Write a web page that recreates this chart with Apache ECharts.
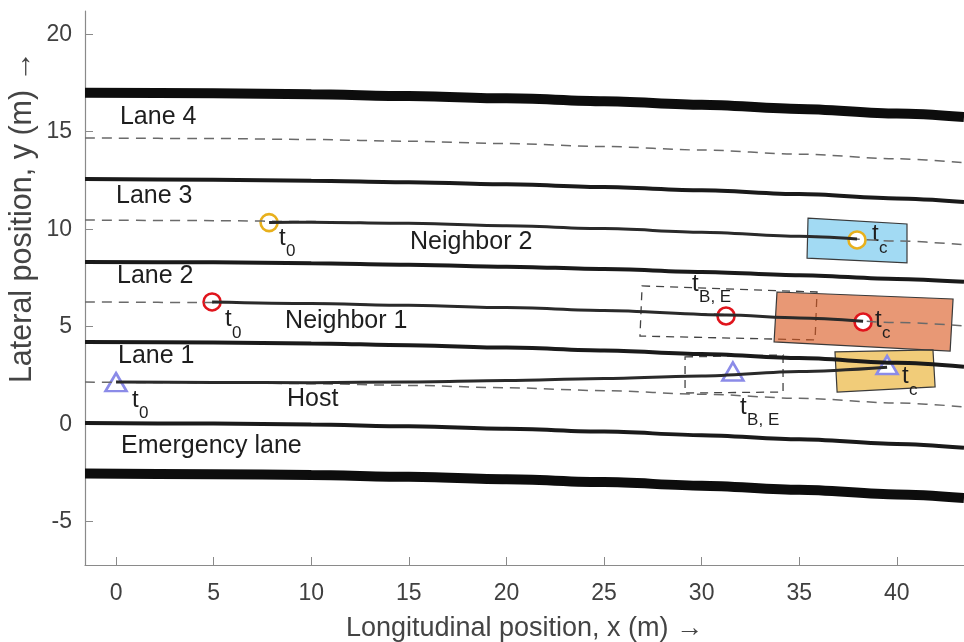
<!DOCTYPE html>
<html>
<head>
<meta charset="utf-8">
<title>lane change</title>
<script src="https://cdn.jsdelivr.net/npm/echarts@6.0.0/dist/echarts.min.js"></script>
<style>
  html, body { margin: 0; padding: 0; background: #fff; }
  #main { width: 964px; height: 642px; }
</style>
</head>
<body>
<div id="main"></div>
<script>
// x samples shared by all road lines
var roadX = [-1.59, 5, 10, 15, 20, 25, 30, 35, 40, 43.44];

// road edges (thick) and lane boundaries
var edgeTop    = [17.0, 16.97, 16.92, 16.83, 16.71, 16.56, 16.38, 16.17, 15.93, 15.75];
var bound34    = [12.57, 12.54, 12.49, 12.41, 12.3, 12.16, 12.0, 11.8, 11.58, 11.4];
var bound23    = [8.32, 8.3, 8.25, 8.18, 8.08, 7.96, 7.81, 7.64, 7.45, 7.3];
var bound12    = [4.22, 4.19, 4.14, 4.05, 3.93, 3.78, 3.6, 3.39, 3.15, 2.95];
var bound01    = [0.06, 0.03, -0.02, -0.11, -0.23, -0.38, -0.56, -0.77, -1.01, -1.21];
var edgeBottom = [-2.53, -2.56, -2.61, -2.7, -2.82, -2.97, -3.15, -3.36, -3.6, -3.78];

// lane centre lines (dashed)
var center4 = [14.68, 14.65, 14.6, 14.51, 14.39, 14.24, 14.06, 13.85, 13.61, 13.41];
var center3 = [10.47, 10.44, 10.39, 10.3, 10.18, 10.03, 9.85, 9.64, 9.4, 9.2];
var center2 = [6.27, 6.24, 6.19, 6.1, 5.98, 5.83, 5.66, 5.45, 5.22, 5.04];
var center1 = [2.16, 2.13, 2.08, 1.99, 1.87, 1.72, 1.54, 1.33, 1.09, 0.89];

// vehicle trajectories
var nb2X = [7.84, 10, 15, 20, 25, 30, 35, 37.96];
var nb2Y = [10.34, 10.36, 10.3, 10.18, 10.03, 9.85, 9.64, 9.5];
var nb1X = [4.92, 10, 15, 20, 25, 31.25, 35, 38.27];
var nb1Y = [6.27, 6.19, 6.1, 5.98, 5.83, 5.6, 5.45, 5.28];
var hostX = [0, 5, 10, 15, 20, 25, 30, 35, 39.5];
var hostY = [2.16, 2.14, 2.13, 2.17, 2.24, 2.34, 2.47, 2.7, 2.92];

// markers: t0, tB,E, tc
var nb2Marks  = [[7.84, 10.34], [37.96, 9.45]];
var nb1Marks  = [[4.92, 6.27], [31.25, 5.55], [38.27, 5.24]];
var hostMarks = [[0, 2.16], [31.6, 2.7], [39.5, 3.04]];

// vehicle boxes (corners)
var boxNb2   = [[35.45, 10.57], [40.52, 10.27], [40.52, 8.27], [35.4, 8.52]];
var boxNb1   = [[33.86, 6.78], [42.88, 6.42], [42.73, 3.75], [33.71, 4.22]];
var boxHost  = [[36.83, 3.71], [41.85, 3.81], [41.96, 1.91], [36.94, 1.65]];
var boxNb1BE = [[26.95, 7.09], [35.91, 6.78], [35.81, 4.32], [26.84, 4.52]];
var boxHostBE = [[29.15, 3.45], [34.17, 3.55], [34.17, 1.65], [29.15, 1.6]];

// text
var laneLabels = [
    [0.2, 15.75, 'Lane 4'],
    [0.0, 11.7, 'Lane 3'],
    [0.05, 7.57, 'Lane 2'],
    [0.1, 3.47, 'Lane 1'],
    [0.26, -1.14, 'Emergency lane'],
    [8.76, 1.27, 'Host'],
    [8.66, 5.3, 'Neighbor 1'],
    [15.06, 9.32, 'Neighbor 2']
];
var timeLabels = [
    [8.35, 9.55, '0'],
    [38.73, 9.73, 'c'],
    [5.58, 5.37, '0'],
    [29.51, 7.19, 'B, E'],
    [38.88, 5.34, 'c'],
    [0.82, 1.24, '0'],
    [31.97, 0.88, 'B, E'],
    [40.27, 2.45, 'c']
];
var xTicks = [0, 5, 10, 15, 20, 25, 30, 35, 40];
var yTicks = [-5, 0, 5, 10, 15, 20];

var FONT = '"Liberation Sans", Arial, sans-serif';

function pair(xs, ys) {
    var out = [];
    for (var i = 0; i < xs.length; i++) out.push([xs[i], ys[i]]);
    return out;
}

function roadLine(ys, width, color, dashed) {
    return {
        type: 'line',
        data: pair(roadX, ys),
        showSymbol: false,
        smooth: 0.3,
        smoothMonotone: 'x',
        silent: true,
        lineStyle: { width: width, color: color, type: dashed ? [10, 7] : 'solid' }
    };
}

function trackLine(xs, ys) {
    return {
        type: 'line',
        data: pair(xs, ys),
        showSymbol: false,
        smooth: 0.3,
        smoothMonotone: 'x',
        silent: true,
        lineStyle: { width: 3, color: '#2a2a2a' }
    };
}

function boxSeries(corners, fill, dashed) {
    return {
        type: 'custom',
        silent: true,
        data: [0],
        renderItem: function (params, api) {
            var pts = [];
            for (var i = 0; i < corners.length; i++) pts.push(api.coord(corners[i]));
            return {
                type: 'polygon',
                shape: { points: pts },
                style: {
                    fill: fill || 'none',
                    stroke: dashed ? '#444' : '#3a3a3a',
                    lineWidth: dashed ? 1.3 : 1.2,
                    lineDash: dashed ? [8, 6] : null
                }
            };
        }
    };
}

function markSeries(pts, symbol, size, color) {
    return {
        type: 'scatter',
        data: pts,
        symbol: symbol,
        symbolSize: size,
        silent: true,
        itemStyle: { color: '#fff', borderColor: color, borderWidth: 2.6, opacity: 1 }
    };
}

var myChart = echarts.init(document.getElementById('main'));

var option = {
    animation: false,
    backgroundColor: '#fff',
    grid: { left: 85, right: 0, top: 11, bottom: 77, outerBoundsMode: 'none', containLabel: false },
    xAxis: {
        type: 'value',
        min: -1.59,
        max: 43.44,
        name: 'Longitudinal position, x (m) \u2192',
        nameLocation: 'middle',
        nameGap: 50,
        nameTextStyle: { fontFamily: FONT, fontSize: 27, color: '#444' },
        axisLine: { onZero: false, lineStyle: { color: '#8a8a8a', width: 1.2 } },
        axisTick: { inside: true, length: 8, customValues: xTicks, lineStyle: { color: '#8a8a8a' } },
        axisLabel: { customValues: xTicks, fontFamily: FONT, fontSize: 23, color: '#404040', margin: 17 },
        splitLine: { show: false }
    },
    yAxis: {
        type: 'value',
        min: -7.22,
        max: 21.19,
        axisLine: { show: true, onZero: false, lineStyle: { color: '#8a8a8a', width: 1.2 } },
        axisTick: { show: true, inside: true, length: 8, customValues: yTicks, lineStyle: { color: '#8a8a8a' } },
        axisLabel: { customValues: yTicks, fontFamily: FONT, fontSize: 23, color: '#404040', margin: 13 },
        splitLine: { show: false }
    },
    graphic: [{
        type: 'text',
        x: 23,
        y: 217,
        rotation: Math.PI / 2,
        style: {
            text: 'Lateral position, y (m) \u2192',
            font: '30.5px ' + FONT,
            fill: '#444',
            align: 'center',
            verticalAlign: 'middle'
        }
    }],
    series: [
        roadLine(edgeTop, 10, '#0d0d0d'),
        roadLine(bound34, 4, '#1a1a1a'),
        roadLine(bound23, 4, '#1a1a1a'),
        roadLine(bound12, 4, '#1a1a1a'),
        roadLine(bound01, 4, '#1a1a1a'),
        roadLine(edgeBottom, 10, '#0d0d0d'),
        roadLine(center4, 1.5, '#6a6a6a', true),
        roadLine(center3, 1.5, '#6a6a6a', true),
        roadLine(center2, 1.5, '#6a6a6a', true),
        roadLine(center1, 1.5, '#6a6a6a', true),
        trackLine(nb2X, nb2Y),
        trackLine(nb1X, nb1Y),
        trackLine(hostX, hostY),
        boxSeries(boxNb1BE, null, true),
        boxSeries(boxHostBE, null, true),
        boxSeries(boxNb2, 'rgba(77,185,232,0.52)'),
        boxSeries(boxNb1, 'rgba(217,83,25,0.6)'),
        boxSeries(boxHost, 'rgba(232,170,32,0.6)'),
        markSeries(nb2Marks, 'circle', 17, '#e8b01c'),
        markSeries(nb1Marks, 'circle', 17, '#e0141c'),
        markSeries(hostMarks, 'triangle', [21, 18], '#8b8be8'),
        {
            // lane / vehicle names
            type: 'custom',
            silent: true,
            data: laneLabels,
            renderItem: function (params, api) {
                var p = api.coord([api.value(0), api.value(1)]);
                return {
                    type: 'text',
                    x: p[0],
                    y: p[1],
                    style: {
                        text: laneLabels[params.dataIndex][2],
                        font: '25px ' + FONT,
                        fill: '#1e1e1e',
                        align: 'left',
                        verticalAlign: 'middle'
                    }
                };
            }
        },
        {
            // t with subscript
            type: 'custom',
            silent: true,
            data: timeLabels,
            renderItem: function (params, api) {
                var p = api.coord([api.value(0), api.value(1)]);
                return {
                    type: 'group',
                    children: [{
                        type: 'text',
                        x: p[0],
                        y: p[1],
                        style: { text: 't', font: '24px ' + FONT, fill: '#1e1e1e', align: 'left', verticalAlign: 'middle' }
                    }, {
                        type: 'text',
                        x: p[0] + 7,
                        y: p[1] + 13.5,
                        style: { text: timeLabels[params.dataIndex][2], font: '17px ' + FONT, fill: '#1e1e1e', align: 'left', verticalAlign: 'middle' }
                    }]
                };
            }
        }
    ]
};

myChart.setOption(option);
</script>
</body>
</html>
